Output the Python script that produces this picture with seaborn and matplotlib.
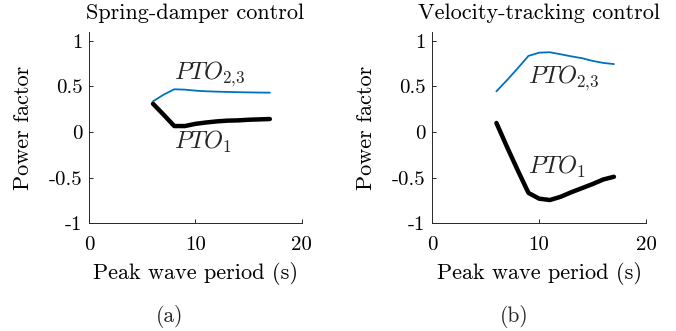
import numpy as np
import pandas as pd
import matplotlib
matplotlib.use("Agg")
import matplotlib.pyplot as plt
import seaborn as sns

# Peak wave periods (s)
period = [6, 7, 8, 9, 10, 11, 12, 13, 14, 15, 16, 17]

# Spring-damper control
sd_pto1 = [0.31, 0.19, 0.066, 0.066, 0.09, 0.105, 0.117, 0.125, 0.128, 0.135, 0.139, 0.143]
sd_pto23 = [0.337, 0.41, 0.469, 0.465, 0.454, 0.447, 0.443, 0.44, 0.437, 0.435, 0.433, 0.432]

# Velocity-tracking control
vt_pto1 = [0.10, -0.165, -0.42, -0.667, -0.73, -0.745, -0.71, -0.66, -0.615, -0.57, -0.52, -0.49]
vt_pto23 = [0.447, 0.57, 0.70, 0.835, 0.87, 0.875, 0.853, 0.83, 0.81, 0.78, 0.758, 0.745]

titles = ["Spring-damper control", "Velocity-tracking control"]
captions = ["(a)", "(b)"]
xticks = [0, 10, 20]
yticks = [-1, -0.5, 0, 0.5, 1]
ytick_labels = ["-1", "-0.5", "0", "0.5", "1"]

sns.set_theme(style="ticks")
plt.rcParams.update({
    "font.family": ["cmr10", "DejaVu Serif"],
    "mathtext.fontset": "cm",
    "axes.unicode_minus": False,
    "axes.formatter.use_mathtext": True,
    "axes.edgecolor": "#262626",
    "axes.linewidth": 0.7,
    "xtick.color": "#262626",
    "ytick.color": "#262626",
    "xtick.direction": "in",
    "ytick.direction": "in",
    "xtick.major.size": 3,
    "ytick.major.size": 3,
    "xtick.major.width": 0.7,
    "ytick.major.width": 0.7,
})

blue = "#0072BD"
fs = 16
tick_fs = 15
pto_fs = 17.5

fig = plt.figure(figsize=(6.76, 3.31), dpi=100)
ax_a = fig.add_axes([0.1321, 0.3254, 0.3142, 0.5788])
ax_b = fig.add_axes([0.6395, 0.3254, 0.3161, 0.5788])

panels = [
    (ax_a, sd_pto1, sd_pto23, (7.95, 0.574), (7.95, -0.18)),
    (ax_b, vt_pto1, vt_pto23, (9.0, 0.53), (9.0, -0.46)),
]

for i, (ax, p1, p23, pos23, pos1) in enumerate(panels):
    df = pd.DataFrame({"period": period, "pto1": p1, "pto23": p23})
    sns.lineplot(data=df, x="period", y="pto23", ax=ax, color=blue, lw=1.3)
    sns.lineplot(data=df, x="period", y="pto1", ax=ax, color="black", lw=3.2)
    ax.set_xlim(0, 20)
    ax.set_ylim(-1, 1.1)
    ax.set_xticks(xticks)
    ax.set_xticklabels([str(t) for t in xticks], fontsize=tick_fs)
    ax.set_yticks(yticks)
    ax.set_yticklabels(ytick_labels, fontsize=tick_fs)
    ax.set_xlabel("Peak wave period (s)", fontsize=fs, labelpad=6, color="black")
    ax.set_ylabel("Power factor", fontsize=fs, labelpad=11, color="black")
    ax.set_title(titles[i], fontsize=fs, pad=9, color="black")
    ax.tick_params(axis="x", pad=9, labelcolor="black")
    ax.tick_params(axis="y", pad=5, labelcolor="black")
    sns.despine(ax=ax)
    ax.text(pos23[0], pos23[1], r"$PTO_{2{,}3}$", fontsize=pto_fs, ha="left", va="baseline")
    ax.text(pos1[0], pos1[1], r"$PTO_1$", fontsize=pto_fs, ha="left", va="baseline")

fig.text(0.2515, 0.044, captions[0], fontsize=15.5, ha="center", va="center")
fig.text(0.760, 0.044, captions[1], fontsize=15.5, ha="center", va="center")

fig.savefig("out.png", dpi=100)
